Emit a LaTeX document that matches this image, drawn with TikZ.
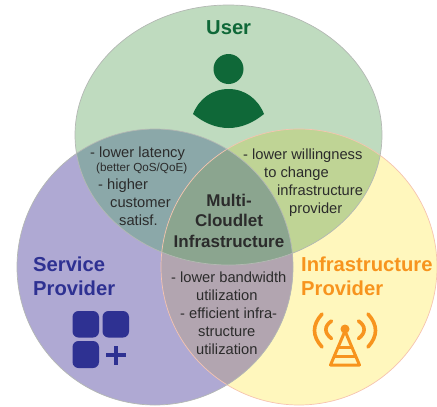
\documentclass[tikz,border=0pt]{standalone}
\usepackage{fontspec}
\usetikzlibrary{shapes.geometric}
\setmainfont{Liberation Sans}
\definecolor{userfill}{HTML}{BFDBBF}
\definecolor{servicefill}{HTML}{AFA9D3}
\definecolor{infrafill}{HTML}{FFF7BD}
\definecolor{usrsrv}{HTML}{8BA8A9}
\definecolor{usrinf}{HTML}{BFD495}
\definecolor{srvinf}{HTML}{B2A5B0}
\definecolor{corefill}{HTML}{8BA58F}
\definecolor{usercol}{HTML}{0F6838}
\definecolor{servicecol}{HTML}{2E3192}
\definecolor{infracol}{HTML}{F7941E}
\definecolor{textcol}{HTML}{2B2B2B}
\definecolor{infraedge}{HTML}{F6C4B0}
\definecolor{setedge}{HTML}{B4B8B4}
\newcommand{\userset}{(228.5,135) ellipse[x radius=153.5pt,y radius=130pt]}
\newcommand{\serviceset}{(155,267) circle[radius=138pt]}
\newcommand{\infraset}{(299,267) circle[radius=138pt]}
\tikzset{
  set node/.style={inner sep=0pt,line width=0.7pt},
  title node/.style={font=\bfseries\fontsize{20.2}{24}\selectfont,anchor=base west,inner sep=0pt},
  note node/.style={font=\fontsize{14.7}{17}\selectfont,text=textcol,anchor=base west,inner sep=0pt},
  small node/.style={font=\fontsize{11.7}{14}\selectfont,text=textcol,anchor=base west,inner sep=0pt},
  core node/.style={font=\bfseries\fontsize{17}{20}\selectfont,text=textcol,anchor=base,inner sep=0pt},
  tile/.style={fill=servicecol,rounded corners=6pt},
  wave/.style={draw=infracol,line width=3.6pt,line cap=round},
  mast/.style={draw=infracol,line width=3pt,line join=round},
}
\begin{document}
\begin{tikzpicture}[x=1pt,y=-1pt]
  \useasboundingbox (0,0) rectangle (437,407);
  % the three sets
  \node[circle,set node,fill=infrafill,minimum size=276pt] (infra) at (299,267) {};
  \node[circle,set node,fill=servicefill,minimum size=276pt] (service) at (155,267) {};
  \node[ellipse,set node,fill=userfill,minimum width=307pt,minimum height=260pt] (user) at (228.5,135) {};
  % overlaps
  \begin{scope}
    \clip \serviceset;
    \fill[srvinf] \infraset;
    \fill[usrsrv] \userset;
  \end{scope}
  \begin{scope}
    \clip \infraset;
    \fill[usrinf] \userset;
    \clip \serviceset;
    \fill[corefill] \userset;
  \end{scope}
  % outlines
  \node[circle,set node,draw=infraedge,minimum size=276pt] (infraline) at (299,267) {};
  \node[circle,set node,draw=setedge,minimum size=276pt] (serviceline) at (155,267) {};
  \node[ellipse,set node,draw=setedge,minimum width=307pt,minimum height=260pt] (userline) at (228.5,135) {};
  % titles
  \node[title node,text=usercol] (usertitle) at (206,34) {User};
  \node[title node,text=servicecol] (service1) at (33,271) {Service};
  \node[title node,text=servicecol] (service2) at (33,295) {Provider};
  \node[title node,text=infracol] (infra1) at (301,271) {Infrastructure};
  \node[title node,text=infracol] (infra2) at (301,295) {Provider};
  % user icon
  \fill[usercol] (228.5,69) circle[radius=15pt];
  \fill[usercol] (193,114) .. controls (199,99) and (212,89) .. (228.5,89) .. controls (245,89) and (258,99) .. (264,114) .. controls (253,123) and (241,128) .. (228.5,128) .. controls (216,128) and (204,123) .. (193,114) -- cycle;
  % service icon
  \fill[tile] (72.5,311) rectangle (99,337.5);
  \fill[tile] (102.5,311) rectangle (129,337.5);
  \fill[tile] (72.5,341) rectangle (99,368);
  \fill[servicecol] (106,353) rectangle (125.5,357);
  \fill[servicecol] (113.7,345.5) rectangle (117.7,364.5);
  % antenna icon
  \fill[infracol] (345,329) circle[radius=4.5pt];
  \draw[mast] (345,331) -- (330.5,365) -- (359.5,365) -- cycle;
  \draw[mast] (338,347.7) -- (352,347.7);
  \draw[mast] (335,356) -- (355,356);
  \draw[wave] (331.5,321) .. controls (324,326) and (324,333) .. (331.5,338.5);
  \draw[wave] (358.5,321) .. controls (366,326) and (366,333) .. (358.5,338.5);
  \draw[wave] (322,314) .. controls (312,325) and (312,336) .. (322,347);
  \draw[wave] (368,314) .. controls (378,325) and (378,336) .. (368,347);
  % user and service
  \node[note node] (n1) at (90,157) {- lower latency};
  \node[small node] (n2) at (96,171) {(better QoS/QoE)};
  \node[note node] (n3) at (98,189) {- higher};
  \node[note node] (n4) at (110,207) {customer};
  \node[note node] (n5) at (119,225) {satisf.};
  % user and infrastructure
  \node[note node] (n6) at (243,159) {- lower willingness};
  \node[note node] (n7) at (264,177) {to change};
  \node[note node] (n8) at (277,195) {infrastructure};
  \node[note node] (n9) at (289,213) {provider};
  % service and infrastructure
  \node[note node] (n10) at (171,282) {- lower bandwidth};
  \node[note node] (n11) at (196,300) {utilization};
  \node[note node] (n12) at (180,318) {- efficient infra-};
  \node[note node] (n13) at (198,336) {structure};
  \node[note node] (n14) at (196,354) {utilization};
  % all three
  \node[core node] (core1) at (229,206) {Multi-};
  \node[core node] (core2) at (229,226) {Cloudlet};
  \node[core node] (core3) at (229,247) {Infrastructure};
\end{tikzpicture}
\end{document}
